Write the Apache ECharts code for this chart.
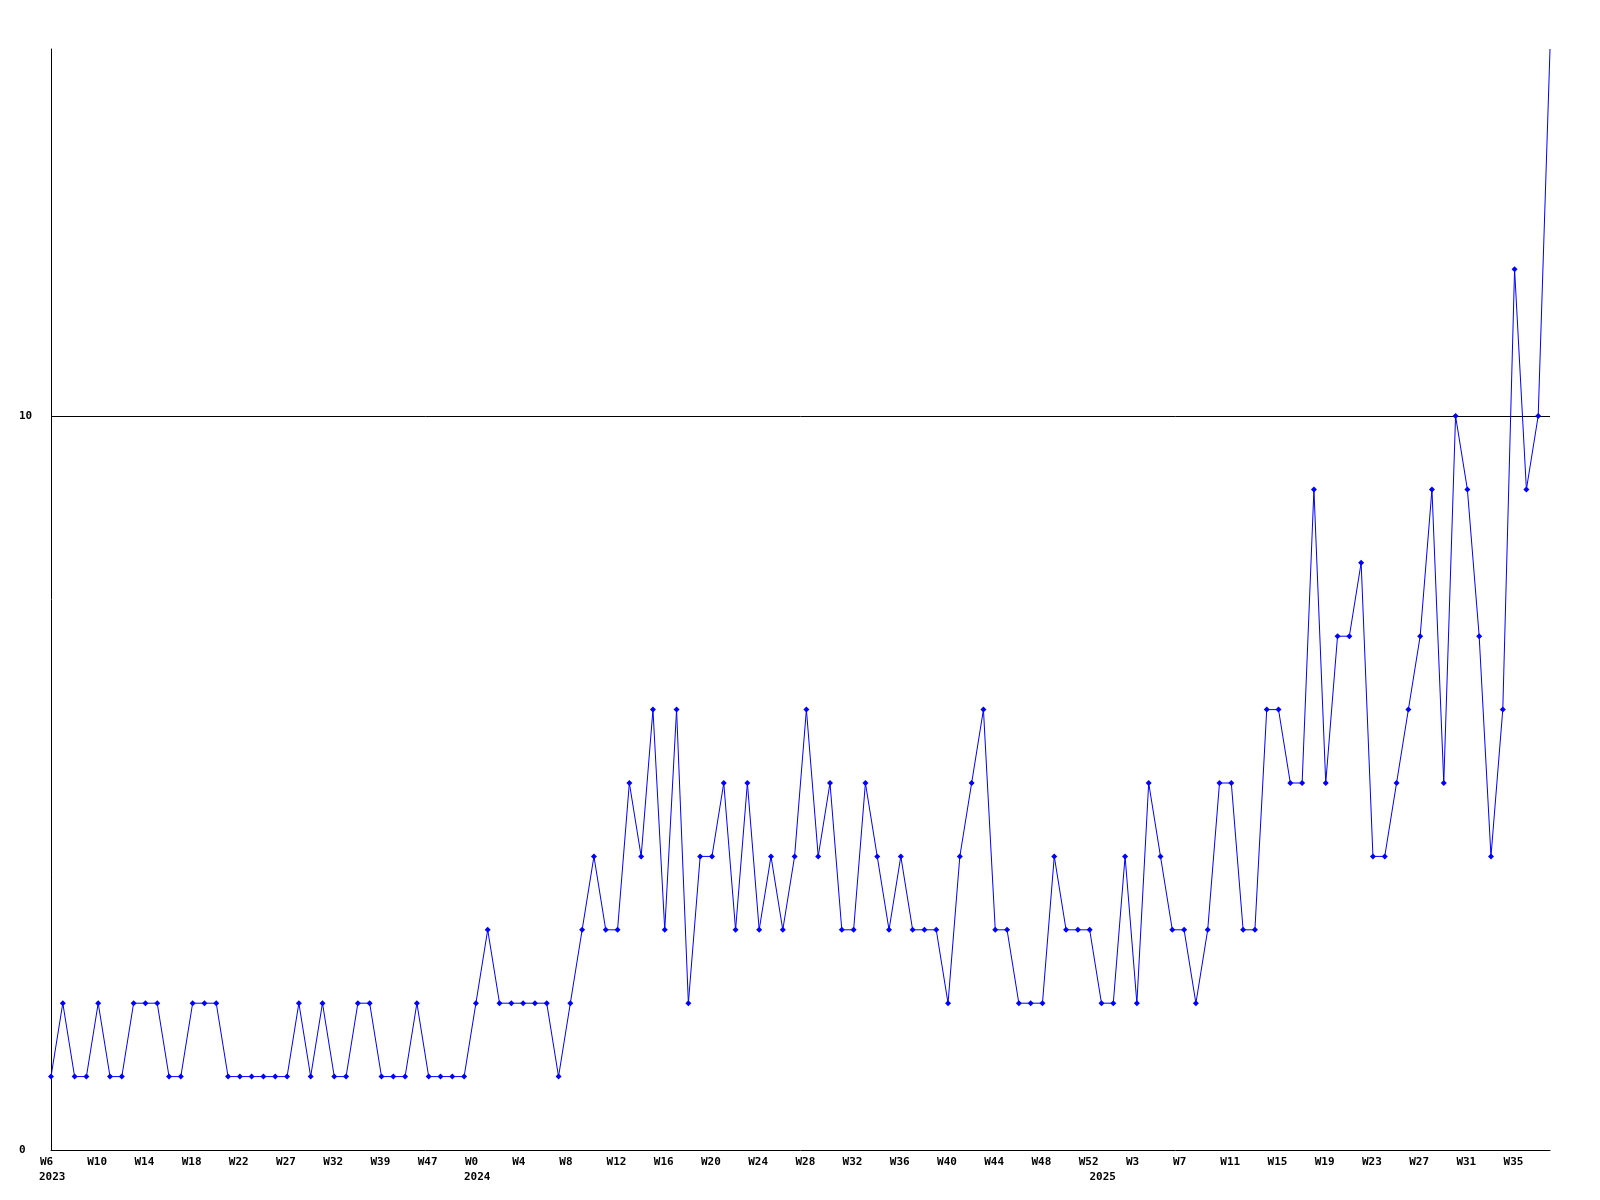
<!DOCTYPE html>
<html>
<head>
<meta charset="utf-8">
<script src="https://cdn.jsdelivr.net/npm/echarts@6/dist/echarts.min.js"></script>
<style>
html,body{margin:0;padding:0;background:#fff;}
#chart{width:1600px;height:1200px;}
</style>
</head>
<body>
<div id="chart"></div>
<script>
// Week numbers per year (x categories)
const weeks2023 = [6,7,8,9,10,11,12,13,14,15,16,17,18,19,20,21,22,23,25,26,27,28,30,31,32,34,36,38,39,41,43,45,47,48,50,51];
const weeks2024 = [0,1,2,3,4,5,6,7,8,9,10,11,12,13,14,15,16,17,18,19,20,21,22,23,24,25,26,27,28,29,30,31,32,33,34,35,36,37,38,39,40,41,42,43,44,45,46,47,48,49,50,51,52];
const weeks2025 = [0,1,2,3,4,5,6,7,8,9,10,11,12,13,14,15,16,17,18,19,20,21,22,23,24,25,26,27,28,29,30,31,32,33,34,35,36,37,38];

// Weekly counts
const values = [
  1,2,1,1,2,1,1,2,2,2,1,1,2,2,2,1,1,1,1,1,1,2,1,2,1,1,2,2,1,1,1,2,1,1,1,1,
  2,3,2,2,2,2,2,1,2,3,4,3,3,5,4,6,3,6,2,4,4,5,3,5,3,4,3,4,6,4,5,3,3,5,4,3,
  4,3,3,3,2,4,5,6,3,3,2,2,2,4,3,3,3,
  2,2,4,2,5,4,3,3,2,3,5,5,3,3,6,6,5,5,9,5,7,7,8,4,4,5,6,7,9,5,10,9,7,4,6,12,9,10,15
];

const yTickLabels = ['0','10'];

const cats = [];
const yearOf = [];
weeks2023.forEach(w => { cats.push('W' + w); yearOf.push('2023'); });
weeks2024.forEach(w => { cats.push('W' + w); yearOf.push('2024'); });
weeks2025.forEach(w => { cats.push('W' + w); yearOf.push('2025'); });

const LABEL_STEP = 4;
const firstOfYear = {};
yearOf.forEach((y, i) => { if (!(y in firstOfYear)) firstOfYear[y] = i; });

const seriesData = values.map((v, i) => i === values.length - 1 ? {value: v, symbol: 'none'} : v);

const font = '"DejaVu Sans Mono", monospace';
const baseLabel = {color: '#000', fontFamily: font, fontWeight: 'bold', fontSize: 11};

const chart = echarts.init(document.getElementById('chart'));
chart.setOption({
  animation: false,
  backgroundColor: '#ffffff',
  grid: {left: 51, right: 50, top: 49, bottom: 50, containLabel: false},
  xAxis: [{
    type: 'category',
    data: cats,
    boundaryGap: false,
    axisLine: {lineStyle: {color: '#000', width: 1}},
    axisTick: {show: false},
    splitLine: {show: false},
    axisLabel: Object.assign({}, baseLabel, {
      interval: LABEL_STEP - 1,
      margin: 7,
      align: 'center',
      formatter: val => '{w|' + val + '}',
      rich: {w: Object.assign({}, baseLabel, {width: 22, align: 'left'})}
    })
  }, {
    type: 'category',
    data: cats,
    position: 'bottom',
    boundaryGap: false,
    axisLine: {show: false},
    axisTick: {show: false},
    splitLine: {show: false},
    axisLabel: Object.assign({}, baseLabel, {
      interval: (idx) => firstOfYear[yearOf[idx]] === idx,
      margin: 22,
      align: 'center',
      formatter: (val, idx) => '{y|' + yearOf[idx] + '}',
      rich: {y: Object.assign({}, baseLabel, {width: 24, align: 'left'})}
    })
  }],
  yAxis: {
    type: 'value',
    min: 0,
    max: 15,
    interval: 10,
    axisLine: {show: true, lineStyle: {color: '#000', width: 1}},
    axisTick: {show: false},
    axisLabel: Object.assign({}, baseLabel, {
      showMaxLabel: false,
      margin: 32,
      align: 'left',
      formatter: v => (v % 10 === 0 ? yTickLabels[v / 10] : '')
    }),
    splitLine: {show: true, showMinLine: false, showMaxLine: false, lineStyle: {color: '#000', width: 1}}
  },
  series: [{
    type: 'line',
    xAxisIndex: 0,
    data: seriesData,
    symbol: 'diamond',
    symbolSize: 6,
    showSymbol: true,
    showAllSymbol: true,
    clip: false,
    lineStyle: {color: '#0000ff', width: 1},
    itemStyle: {color: '#0000ff'},
    emphasis: {disabled: true}
  }]
});
</script>
</body>
</html>
